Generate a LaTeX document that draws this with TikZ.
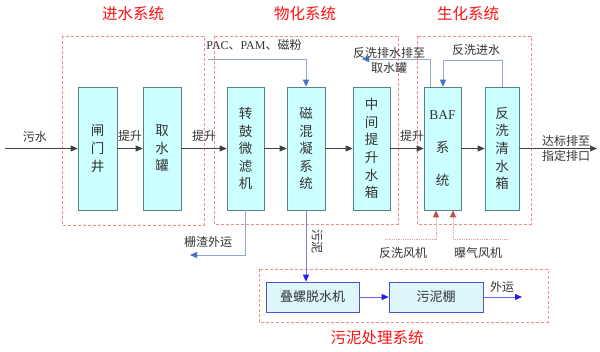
\documentclass[tikz,border=0pt]{standalone}
\usepackage{fontspec}
\setmainfont{Noto Sans CJK SC}
\newfontfamily\lat{Liberation Serif}
\usetikzlibrary{arrows.meta}
\definecolor{boxfill}{HTML}{CCFFFF}
\definecolor{boxdraw}{HTML}{5A8080}
\definecolor{sfill}{HTML}{DDF6FA}
\definecolor{sdraw}{HTML}{5050D0}
\definecolor{pinkd}{HTML}{F08C8C}
\definecolor{lblue}{HTML}{90A8D8}
\definecolor{ablue}{HTML}{4472C4}
\definecolor{tred}{HTML}{FF1010}
\definecolor{fanred}{HTML}{C0504D}
\definecolor{fanline}{HTML}{E8A0A0}
\definecolor{txt}{HTML}{333333}
\definecolor{purp}{HTML}{8A7AE0}
\definecolor{sblue}{HTML}{2020F0}
\tikzset{
  tall/.style={draw=boxdraw, fill=boxfill, minimum height=123pt, inner sep=0pt,
    font=\fontsize{13.5}{17.6}\selectfont, align=center, text=txt, line width=0.7pt},
  sbox/.style={draw=sdraw, fill=sfill, minimum height=30pt, minimum width=93pt, inner sep=0pt,
    font=\fontsize{13}{15}\selectfont, text=txt, line width=0.7pt},
  grp/.style={draw=pinkd, densely dashed, line width=0.6pt},
  title/.style={text=tred, font=\fontsize{15.5}{16}\selectfont},
  lbl/.style={text=txt, font=\fontsize{12}{15}\selectfont, inner sep=0pt, align=center},
  flow/.style={draw=black!75, line width=0.7pt, -{Triangle[length=7pt,width=6pt]}},
  bline/.style={draw=lblue, line width=0.8pt, -{Triangle[length=7pt,width=6pt,color=ablue,fill=ablue]}},
  pline/.style={draw=purp, line width=0.8pt, -{Triangle[length=7pt,width=6pt,color=sblue,fill=sblue]}},
  sflow/.style={draw=sblue!70!white, line width=0.8pt, -{Triangle[length=7pt,width=6pt,color=sblue,fill=sblue]}},
  fline/.style={draw=fanline, densely dotted, line width=0.8pt, -{Triangle[length=7pt,width=6pt,color=fanred,fill=fanred]}},
}
\begin{document}
\begin{tikzpicture}[x=1pt,y=-1pt]
\useasboundingbox (0,0) rectangle (600,351);
% group boxes
\draw[grp] (62,36) rectangle (204,225);
\draw[grp] (214,36) rectangle (398,224);
\draw[grp] (417,36) rectangle (531,224);
\draw[grp] (259,269) rectangle (548,322);
% titles
\node[title] (t1) at (133,14) {进水系统};
\node[title] (t2) at (305,14) {物化系统};
\node[title] (t3) at (468,14) {生化系统};
\node[title] (t4) at (377,338) {污泥处理系统};
% tall boxes
\node[tall, minimum width=39pt] (zmj) at (97.5,148.5) {闸\\门\\井};
\node[tall, minimum width=38pt] (qsg) at (162,148.5) {取\\水\\罐};
\node[tall, minimum width=37pt] (zg) at (245.5,148.5) {转\\鼓\\微\\滤\\机};
\node[tall, minimum width=38pt] (chn) at (306,148.5) {磁\\混\\凝\\系\\统};
\node[tall, minimum width=37pt] (zj) at (371.5,148.5) {中\\间\\提\\升\\水\\箱};
\node[tall, minimum width=37pt] (baf) at (442.5,148.5) {{\lat BAF}\\[15pt]系\\[15pt]统};
\node[tall, minimum width=34pt] (fx) at (502,148.5) {反\\洗\\清\\水\\箱};
% sludge boxes
\node[sbox] (dl) at (312.5,297) {叠螺脱水机};
\node[sbox, minimum width=94pt] (wnp) at (436,297) {污泥棚};
% main flow
\coordinate (in) at (5,148.5);
\coordinate (out) at (597,148.5);
\draw[flow] (in) -- (zmj);
\draw[flow] (zmj) -- (qsg);
\draw[flow] (qsg) -- (zg);
\draw[flow] (zg) -- (chn);
\draw[flow] (chn) -- (zj);
\draw[flow] (zj) -- (baf);
\draw[flow] (baf) -- (fx);
\draw[flow] (fx) -- (out);
\node[lbl] (l1) at (35,137) {污水};
\node[lbl] (l2) at (130,136) {提升};
\node[lbl] (l3) at (204,136) {提升};
\node[lbl] (l4) at (412,136) {提升};
\node[lbl] (l5) at (566,148) {达标排至\\指定排口};
% dosing
\coordinate (pac) at (208,59);
\node[lbl] (lpac) at (254,45) {{\lat PAC}、{\lat PAM}、磁粉};
\draw[bline] (pac) -| (chn.north);
% backwash drain
\coordinate (drain) at (362,59);
\draw[bline] ([xshift=-12.5pt]baf.north) |- (drain);
\node[lbl] (ldr) at (389,60) {反洗排水排至\\取水罐};
% backwash in
\draw[bline] (fx.north) -- (fx.north |- 0,60) -| ([xshift=0.5pt]baf.north);
\node[lbl] (lbw) at (476,50) {反洗进水};
% screenings
\coordinate (sz) at (190,255);
\draw[bline] (zg.south) |- (sz);
\node[lbl] (lsz) at (208,242) {栅渣外运};
% sludge
\draw[pline] (chn.south) -- (chn.south |- dl.north);
\node[lbl, rotate=-90] (lsl) at (317,241) {污泥};
\draw[sflow] (dl) -- (wnp);
\coordinate (wy) at (522,297);
\draw[sflow] (wnp) -- (wy);
\node[lbl] (lwy) at (502,287) {外运};
% fans
\coordinate (f1) at (385,239);
\coordinate (f2) at (508,239);
\draw[fline] (f1) -| ([xshift=-6.5pt]baf.south);
\draw[fline] (f2) -| ([xshift=10.5pt]baf.south);
\node[lbl] (lf1) at (403,253) {反洗风机};
\node[lbl] (lf2) at (478,253) {曝气风机};
\end{tikzpicture}
\end{document}
